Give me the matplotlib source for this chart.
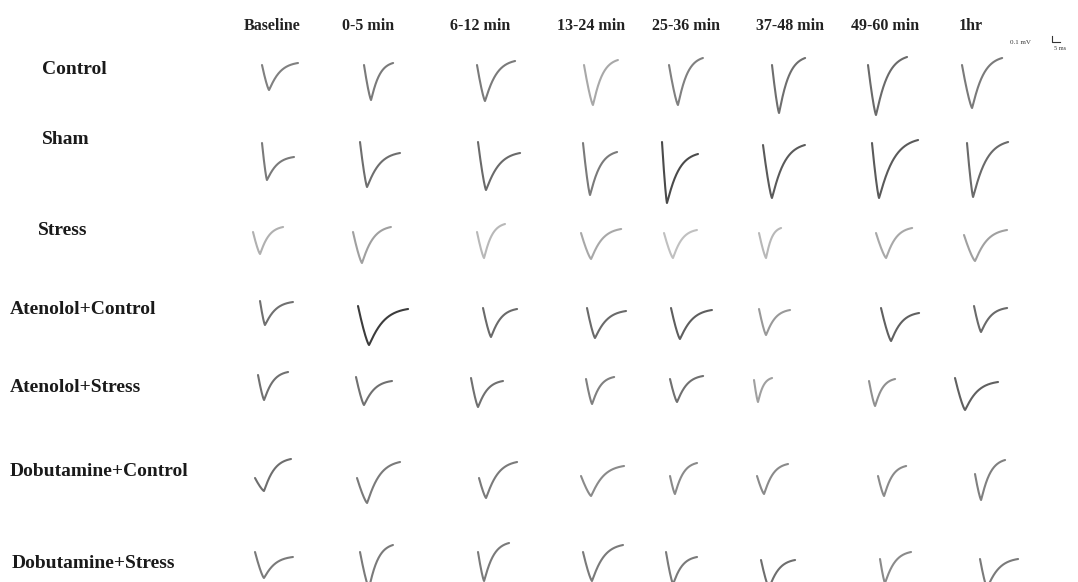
import numpy as np
import matplotlib
matplotlib.use("Agg")
import matplotlib.pyplot as plt

W, H = 1078, 582

groups = ["Control", "Sham", "Stress", "Atenolol+Control", "Atenolol+Stress",
          "Dobutamine+Control", "Dobutamine+Stress"]
periods = ["Baseline", "0-5 min", "6-12 min", "13-24 min", "25-36 min",
           "37-48 min", "49-60 min", "1hr"]

# S-wave descent time from onset to nadir (ms)
descent_ms = [
    [4.4, 4.4, 5.0, 5.6, 5.6, 4.4, 5.0, 6.3],
    [3.1, 4.4, 5.0, 4.4, 3.1, 5.6, 4.4, 3.8],
    [4.4, 5.6, 4.4, 6.3, 5.6, 4.4, 6.3, 6.9],
    [3.1, 6.9, 5.0, 5.0, 5.6, 4.4, 6.3, 4.4],
    [3.8, 5.0, 4.4, 3.8, 4.4, 2.5, 3.8, 6.3],
    [5.6, 6.3, 4.4, 6.3, 3.1, 4.4, 3.8, 3.8],
    [5.6, 5.6, 3.8, 5.6, 4.4, 5.0, 3.1, 4.4],
]
# S-wave depth below onset level (mV)
depth_mv = [
    [0.50, 0.70, 0.72, 0.80, 0.80, 0.96, 1.00, 0.86],
    [0.74, 0.90, 0.96, 1.04, 1.22, 1.06, 1.10, 1.08],
    [0.44, 0.62, 0.52, 0.52, 0.50, 0.50, 0.50, 0.52],
    [0.48, 0.78, 0.58, 0.60, 0.62, 0.52, 0.66, 0.52],
    [0.50, 0.56, 0.58, 0.50, 0.46, 0.44, 0.50, 0.64],
    [0.26, 0.50, 0.40, 0.40, 0.36, 0.36, 0.40, 0.52],
    [0.52, 0.72, 0.58, 0.58, 0.64, 0.56, 0.48, 0.58],
]
# Recovery time from nadir to ST segment (ms)
recovery_ms = [
    [18.1, 13.8, 18.8, 15.6, 15.6, 16.3, 19.4, 18.8],
    [16.9, 20.6, 21.3, 16.9, 19.4, 20.6, 24.4, 21.9],
    [14.4, 18.1, 13.1, 18.8, 15.0, 9.4, 16.3, 20.0],
    [17.5, 24.4, 16.3, 19.4, 20.0, 15.0, 17.5, 16.3],
    [15.0, 17.5, 15.6, 13.8, 16.3, 8.8, 12.5, 20.6],
    [16.9, 20.6, 19.4, 20.6, 13.8, 15.0, 13.8, 15.0],
    [18.1, 15.0, 15.6, 19.4, 15.0, 16.3, 16.3, 19.4],
]
# ST level relative to onset (mV)
st_level_mv = [
    [0.04, 0.04, 0.08, 0.10, 0.14, 0.14, 0.16, 0.14],
    [-0.28, -0.22, -0.22, -0.18, -0.24, 0.00, 0.06, 0.02],
    [0.10, 0.10, 0.16, 0.08, 0.06, 0.10, 0.10, 0.10],
    [-0.02, -0.06, -0.02, -0.06, -0.04, -0.02, -0.10, -0.04],
    [0.06, -0.08, -0.06, 0.04, 0.06, 0.04, 0.04, -0.08],
    [0.38, 0.32, 0.32, 0.20, 0.26, 0.24, 0.20, 0.28],
    [-0.10, 0.14, 0.18, 0.14, -0.10, 0.00, 0.14, 0.00],
]

# ---- layout (pixels) ----
cell_x = [
    [262, 364, 477, 584, 669, 772, 868, 962],
    [262, 360, 478, 583, 662, 763, 872, 967],
    [253, 353, 477, 581, 664, 759, 876, 964],
    [260, 358, 483, 587, 671, 759, 881, 974],
    [258, 356, 471, 586, 670, 754, 869, 955],
    [255, 357, 479, 581, 670, 757, 878, 975],
    [255, 360, 478, 583, 666, 761, 880, 980],
]
cell_y = [
    [65, 65, 65, 65, 65, 65, 65, 65],
    [143, 142, 142, 143, 142, 145, 143, 143],
    [232, 232, 232, 233, 233, 233, 233, 235],
    [301, 306, 308, 308, 308, 309, 308, 306],
    [375, 377, 378, 379, 379, 380, 381, 378],
    [478, 478, 478, 476, 476, 476, 476, 474],
    [552, 552, 552, 552, 552, 560, 559, 559],
]
trace_color = [
    ["#808080", "#7a7a7a", "#7a7a7a", "#a8a8a8", "#808080", "#6e6e6e", "#6a6a6a", "#7a7a7a"],
    ["#7a7a7a", "#6e6e6e", "#6a6a6a", "#7a7a7a", "#4a4a4a", "#5a5a5a", "#5a5a5a", "#6a6a6a"],
    ["#b0b0b0", "#a0a0a0", "#b8b8b8", "#a8a8a8", "#c0c0c0", "#b8b8b8", "#a8a8a8", "#a0a0a0"],
    ["#707070", "#3c3c3c", "#6a6a6a", "#6a6a6a", "#5e5e5e", "#999999", "#606060", "#6a6a6a"],
    ["#707070", "#707070", "#707070", "#808080", "#707070", "#a0a0a0", "#909090", "#606060"],
    ["#6e6e6e", "#7a7a7a", "#7a7a7a", "#8a8a8a", "#8a8a8a", "#8a8a8a", "#8a8a8a", "#808080"],
    ["#7a7a7a", "#7a7a7a", "#7a7a7a", "#7a7a7a", "#7a7a7a", "#6e6e6e", "#8a8a8a", "#7a7a7a"],
]
header_x = [272, 368, 480, 591, 686, 790, 885, 971]
header_y = 26
label_pos = [(42, 69), (42, 139), (38, 231), (10, 309), (10, 388), (10, 472), (12, 563)]

PX_PER_MS = 1.6
PX_PER_MV = 50.0
X_LIM = (-2.0, 40.0)
Y_LIM = (-1.4, 0.6)

serif = ["Liberation Serif", "DejaVu Serif"]


def fx(px):
    return px / W


def fy(py):
    return 1 - py / H


def s_wave(d1, depth, d2, st):
    t = np.linspace(0, 1, 60)
    xa = d1 * t
    ya = -depth * (1 - (1 - t) ** 1.3)
    s = np.linspace(0, 1, 90)[1:]
    k = 3.0
    g = (1 - np.exp(-k * s ** 1.1)) / (1 - np.exp(-k))
    xb = d1 + d2 * s
    yb = -depth + (depth + st) * g
    return np.concatenate([xa, xb]), np.concatenate([ya, yb])


fig = plt.figure(figsize=(W / 100, H / 100), dpi=100)
fig.patch.set_facecolor("white")

ax_w = (X_LIM[1] - X_LIM[0]) * PX_PER_MS
ax_h = (Y_LIM[1] - Y_LIM[0]) * PX_PER_MV

for r in range(len(groups)):
    for c in range(len(periods)):
        left = cell_x[r][c] + X_LIM[0] * PX_PER_MS
        top = cell_y[r][c] - Y_LIM[1] * PX_PER_MV
        ax = fig.add_axes([fx(left), fy(top + ax_h), ax_w / W, ax_h / H])
        ax.set_xlim(*X_LIM)
        ax.set_ylim(*Y_LIM)
        ax.axis("off")
        ax.patch.set_alpha(0)
        x, y = s_wave(descent_ms[r][c], depth_mv[r][c], recovery_ms[r][c], st_level_mv[r][c])
        ax.plot(x, y, color=trace_color[r][c], lw=1.5, solid_capstyle="round",
                solid_joinstyle="round", clip_on=False)

for name, xc in zip(periods, header_x):
    fig.text(fx(xc), fy(header_y), name, ha="center", va="center",
             family=serif, weight="bold", fontsize=11.5, color="#222222")

for name, (lx, ly) in zip(groups, label_pos):
    fig.text(fx(lx), fy(ly), name, ha="left", va="center",
             family=serif, weight="bold", fontsize=14, color="#1a1a1a")

# calibration bar
fig.text(fx(1010), fy(42), "0.1 mV", ha="left", va="center",
         family=serif, fontsize=5, color="#333333")
fig.add_artist(plt.Line2D([fx(1052), fx(1052), fx(1060)], [fy(36), fy(42), fy(42)],
                          transform=fig.transFigure, color="#333333", lw=0.8))
fig.text(fx(1054), fy(49), "5 ms", ha="left", va="center",
         family=serif, fontsize=4.5, color="#333333")

fig.savefig("out.png", dpi=100, facecolor="white")
